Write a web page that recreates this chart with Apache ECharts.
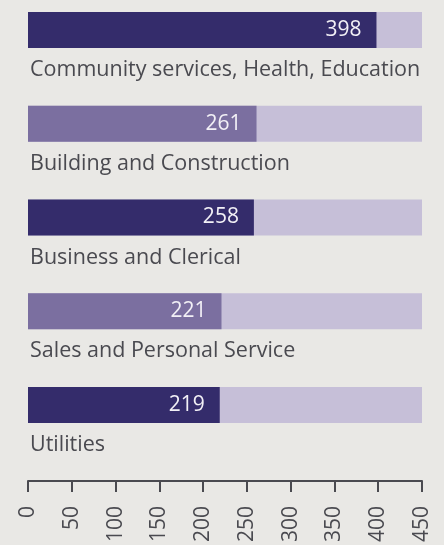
<!DOCTYPE html>
<html>
<head>
<meta charset="utf-8">
<script src="https://cdn.jsdelivr.net/npm/echarts@6/dist/echarts.min.js"></script>
<style>
  html, body { margin: 0; padding: 0; background: #e9e8e5; }
  #chart { width: 444px; height: 545px; }
</style>
</head>
<body>
<div id="chart"></div>
<script>
// categories top to bottom
const categories = ['Community services, Health, Education', 'Building and Construction', 'Business and Clerical', 'Sales and Personal Service', 'Utilities']
const values = [398, 261, 258, 221, 219]
const highlight = [true, false, true, false, true] // dark bars vs lighter ones
const axisMax = 450
const tickStep = 50

const textColor = '#4a4a50'
const font = 'Open Sans'

const chart = echarts.init(document.getElementById('chart'))
chart.setOption({
  backgroundColor: '#e9e8e5',
  animation: false,
  grid: { left: 28, right: 22, top: 12, bottom: 63, containLabel: false },
  xAxis: {
    type: 'value',
    min: 0,
    max: axisMax,
    interval: tickStep,
    position: 'bottom',
    splitLine: { show: false },
    axisLine: { show: true, lineStyle: { color: textColor, width: 2 } },
    axisTick: { show: true, length: 11, lineStyle: { color: textColor, width: 2 } },
    axisLabel: { rotate: 90, margin: 25, color: textColor, fontSize: 21, fontFamily: font }
  },
  yAxis: {
    type: 'category',
    inverse: true,
    data: categories,
    show: false
  },
  series: [
    {
      // the value bars
      type: 'bar',
      barWidth: 36,
      barGap: '0%',
      data: values.map((v, i) => ({
        value: v,
        itemStyle: { color: highlight[i] ? '#342c6b' : '#7b6fa0' }
      })),
      showBackground: true,
      backgroundStyle: { color: '#c6bfd8' },
      label: {
        show: true,
        position: 'insideRight',
        distance: 15,
        color: '#f2f0f6',
        fontSize: 21,
        fontFamily: font
      }
    },
    {
      // invisible bars that carry the category names under each bar
      type: 'bar',
      barWidth: 58,
      barGap: '0%',
      silent: true,
      data: categories.map(() => axisMax),
      itemStyle: { color: 'rgba(0,0,0,0)' },
      label: {
        show: true,
        position: [2, 11],
        formatter: p => p.name,
        color: textColor,
        fontSize: 21.5,
        fontFamily: font
      }
    }
  ]
})
</script>
</body>
</html>
